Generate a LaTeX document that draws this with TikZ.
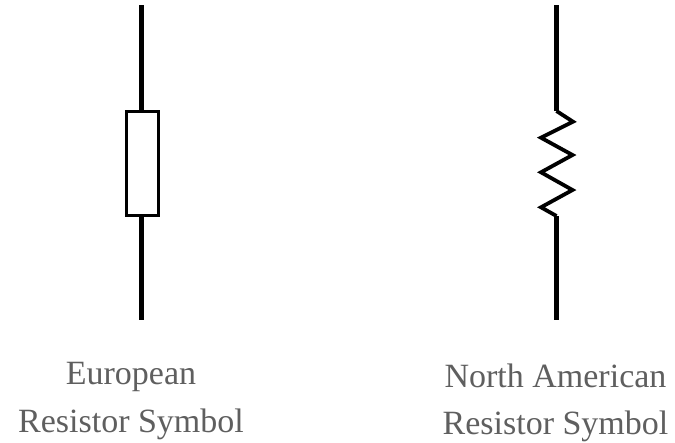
\documentclass[tikz,border=0pt]{standalone}
\usepackage{fontspec}
\setmainfont{Liberation Serif}
\definecolor{labelgrey}{RGB}{95,95,95}
\tikzset{
  lead/.style={line width=5pt,draw=black},
  body/.style={draw=black,fill=white},
  zig/.style={line width=3.8pt,draw=black,miter limit=10},
  caption/.style={text=labelgrey,font=\fontsize{34}{34}\selectfont,inner sep=0pt,anchor=base}
}
\begin{document}
\begin{tikzpicture}[x=1pt,y=-1pt]
\useasboundingbox (0,0) rectangle (675,442);
\fill[white] (0,0) rectangle (675,442);
\coordinate (ltop) at (141.5,5);
\coordinate (lbot) at (141.5,320);
\node[body,minimum width=32pt,minimum height=104pt,inner sep=0pt,line width=2.8pt] (rbody) at (142.7,163.7) {};
\draw[lead] (ltop) -- (rbody.north -| ltop);
\draw[lead] (rbody.south -| lbot) -- (lbot);
\coordinate (rtop) at (556.5,5);
\coordinate (rbot) at (556.5,320);
\coordinate (za) at (556.5,111);
\coordinate (zb) at (556.5,216);
\draw[lead] (rtop) -- (za);
\draw[lead] (zb) -- (rbot);
\draw[zig] (za) -- (573,121.7) -- (541,137.7) -- (572.5,155) -- (541,172.3) -- (572.5,190) -- (541,207.3) -- (zb);
\node[caption] (eu1) at (131,384) {European};
\node[caption] (eu2) at (131,432) {Resistor Symbol};
\node[caption] (na1) at (555.5,387) {North American};
\node[caption] (na2) at (555.5,434) {Resistor Symbol};
\end{tikzpicture}
\end{document}
